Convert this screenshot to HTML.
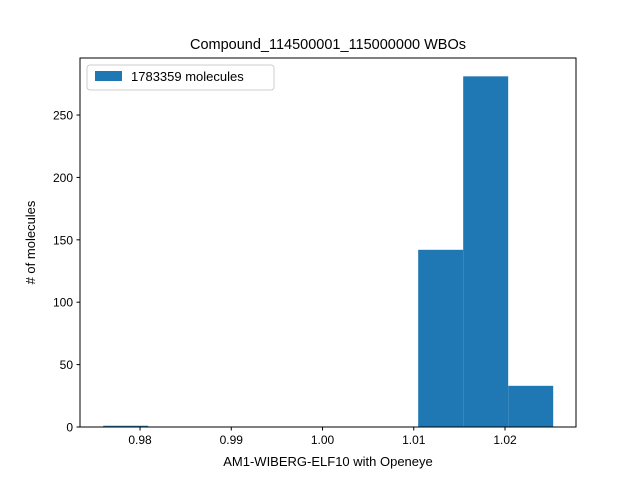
<!DOCTYPE html>
<html><head><meta charset="utf-8"><style>
body{margin:0;background:#fff;}
svg{display:block;font-family:"Liberation Sans","DejaVu Sans",sans-serif;}
</style></head><body>
<svg id="chart" width="640" height="480">
<rect width="640" height="480" fill="#fff"/>
<text x="328" y="49" text-anchor="middle" font-size="14.5">Compound_114500001_115000000 WBOs</text>
<g id="bars"></g>
<g id="xticks"></g>
<g id="yticks"></g>
<rect x="80" y="58" width="496" height="369" fill="none" stroke="#000" stroke-width="1"/>
<text x="328" y="466" text-anchor="middle" font-size="13">AM1-WIBERG-ELF10 with Openeye</text>
<text transform="translate(35,242.5) rotate(-90)" text-anchor="middle" font-size="13">#  of molecules</text>
<g>
<rect x="87" y="65" width="187" height="25" rx="3" fill="#fff" stroke="#ccc"/>
<rect x="95" y="71" width="27" height="10" fill="#1f77b4"/>
<text x="131" y="81" font-size="13">1783359 molecules</text>
</g>
</svg>
<script>
const binStart = 0.97596;
const binWidth = 0.004932;
const counts = [1, 0, 0, 0, 0, 0, 0, 142, 281, 33];
const xTicks = [0.98, 0.99, 1.00, 1.01, 1.02];
const xTickLabels = ["0.98", "0.99", "1.00", "1.01", "1.02"];
const yTicks = [0, 50, 100, 150, 200, 250];
const xMin = 0.97342, xMax = 1.02778, yMin = 0, yMax = 295.7;
const L = 80, R = 576, T = 58, B = 427;
const NS = "http://www.w3.org/2000/svg";
const sx = v => L + (v - xMin) / (xMax - xMin) * (R - L);
const sy = v => B - (v - yMin) / (yMax - yMin) * (B - T);
const bars = document.getElementById('bars');
counts.forEach((c, i) => {
  if (c <= 0) return;
  const x0 = sx(binStart + i * binWidth), x1 = sx(binStart + (i + 1) * binWidth);
  const r = document.createElementNS(NS, 'rect');
  r.setAttribute('x', x0); r.setAttribute('width', x1 - x0);
  r.setAttribute('y', sy(c)); r.setAttribute('height', sy(0) - sy(c));
  r.setAttribute('fill', '#1f77b4');
  
  
  bars.appendChild(r);
});
const xg = document.getElementById('xticks');
xTicks.forEach((t, i) => {
  const x = sx(t);
  const l = document.createElementNS(NS, 'line');
  l.setAttribute('x1', x); l.setAttribute('x2', x); l.setAttribute('y1', B); l.setAttribute('y2', B + 3.5);
  l.setAttribute('stroke', '#000');
  
  
  xg.appendChild(l);
  const tx = document.createElementNS(NS, 'text');
  tx.setAttribute('x', x); tx.setAttribute('y', B + 17); tx.setAttribute('text-anchor', 'middle'); tx.setAttribute('font-size', '12');
  tx.textContent = xTickLabels[i];
  
  
  xg.appendChild(tx);
});
const yg = document.getElementById('yticks');
yTicks.forEach(t => {
  const y = sy(t);
  const l = document.createElementNS(NS, 'line');
  l.setAttribute('x1', L - 3.5); l.setAttribute('x2', L); l.setAttribute('y1', y); l.setAttribute('y2', y);
  l.setAttribute('stroke', '#000');
  
  
  yg.appendChild(l);
  const tx = document.createElementNS(NS, 'text');
  tx.setAttribute('x', L - 7); tx.setAttribute('y', y + 4.5); tx.setAttribute('text-anchor', 'end'); tx.setAttribute('font-size', '12');
  tx.textContent = String(t);
  
  
  yg.appendChild(tx);
});
</script>
</body></html>
